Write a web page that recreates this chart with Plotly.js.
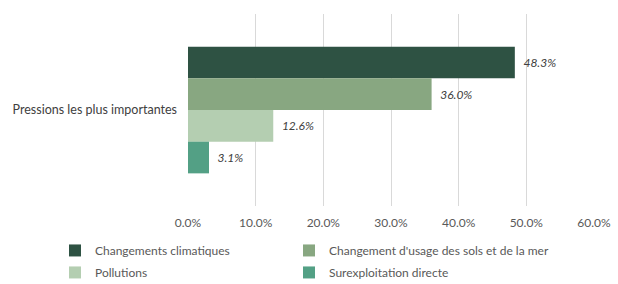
<!DOCTYPE html>
<html><head><meta charset="utf-8">
<script src="https://cdn.plot.ly/plotly-3.0.1.min.js"></script>
<style>html,body{margin:0;padding:0;background:#fff;}#c{width:618px;height:284px;}</style>
</head><body><div id="c"></div>
<script>
const category = ["Pressions les plus importantes"];
const seriesNames = ["Changements climatiques", "Changement d'usage des sols et de la mer", "Pollutions", "Surexploitation directe"];
const seriesValues = [48.3, 36.0, 12.6, 3.1];
const seriesColors = ["#2E5243", "#88A781", "#B4CEB1", "#53A085"];
const legendColumn = ["legend", "legend2", "legend", "legend2"];
const tickVals = [0, 10, 20, 30, 40, 50, 60];
const tickText = ["0.0%", "10.0%", "20.0%", "30.0%", "40.0%", "50.0%", "60.0%"];

const traces = seriesNames.map((n, i) => ({
  type: 'bar', orientation: 'h', name: n,
  y: category, x: [seriesValues[i]],
  marker: {color: seriesColors[i]},
  text: ['\u00A0\u00A0' + seriesValues[i].toFixed(1) + '%'], textposition: 'outside',
  textfont: {family: 'Lato', size: 12, color: '#404040', style: 'italic'},
  cliponaxis: false, hoverinfo: 'none', legend: legendColumn[i], legendgroup: 'g' + i
}));

const legendBase = {orientation: 'v', xref: 'paper', xanchor: 'left',
  yref: 'paper', y: -0.156, yanchor: 'top', traceorder: 'grouped',
  bgcolor: 'rgba(0,0,0,0)',
  font: {family: 'Lato', size: 12, color: '#595959'}, itemwidth: 30, tracegroupgap: 3};

Plotly.newPlot('c', traces, {
  width: 618, height: 284,
  margin: {l: 188, r: 24, t: 14, b: 78, autoexpand: false},
  paper_bgcolor: '#fff', plot_bgcolor: '#fff',
  barmode: 'group', bargap: 0.34, bargroupgap: 0,
  font: {family: 'Lato', size: 12, color: '#595959'},
  xaxis: {range: [0, 60], tickvals: tickVals, ticktext: tickText, showgrid: true,
    gridcolor: '#D9D9D9', gridwidth: 1, zeroline: false, showline: false,
    ticklabelstandoff: 8,
    tickfont: {family: 'Lato', size: 12, color: '#595959'}, fixedrange: true},
  yaxis: {autorange: 'reversed', showgrid: false, showline: false, zeroline: false,
    ticks: '', ticklabelstandoff: 10, tickfont: {family: 'Lato', size: 12.5, color: '#404040'}, fixedrange: true},
  showlegend: true,
  legend: Object.assign({}, legendBase, {x: -0.3276}),
  legend2: Object.assign({}, legendBase, {x: 0.2488})
}, {displayModeBar: false, staticPlot: true});
</script></body></html>
